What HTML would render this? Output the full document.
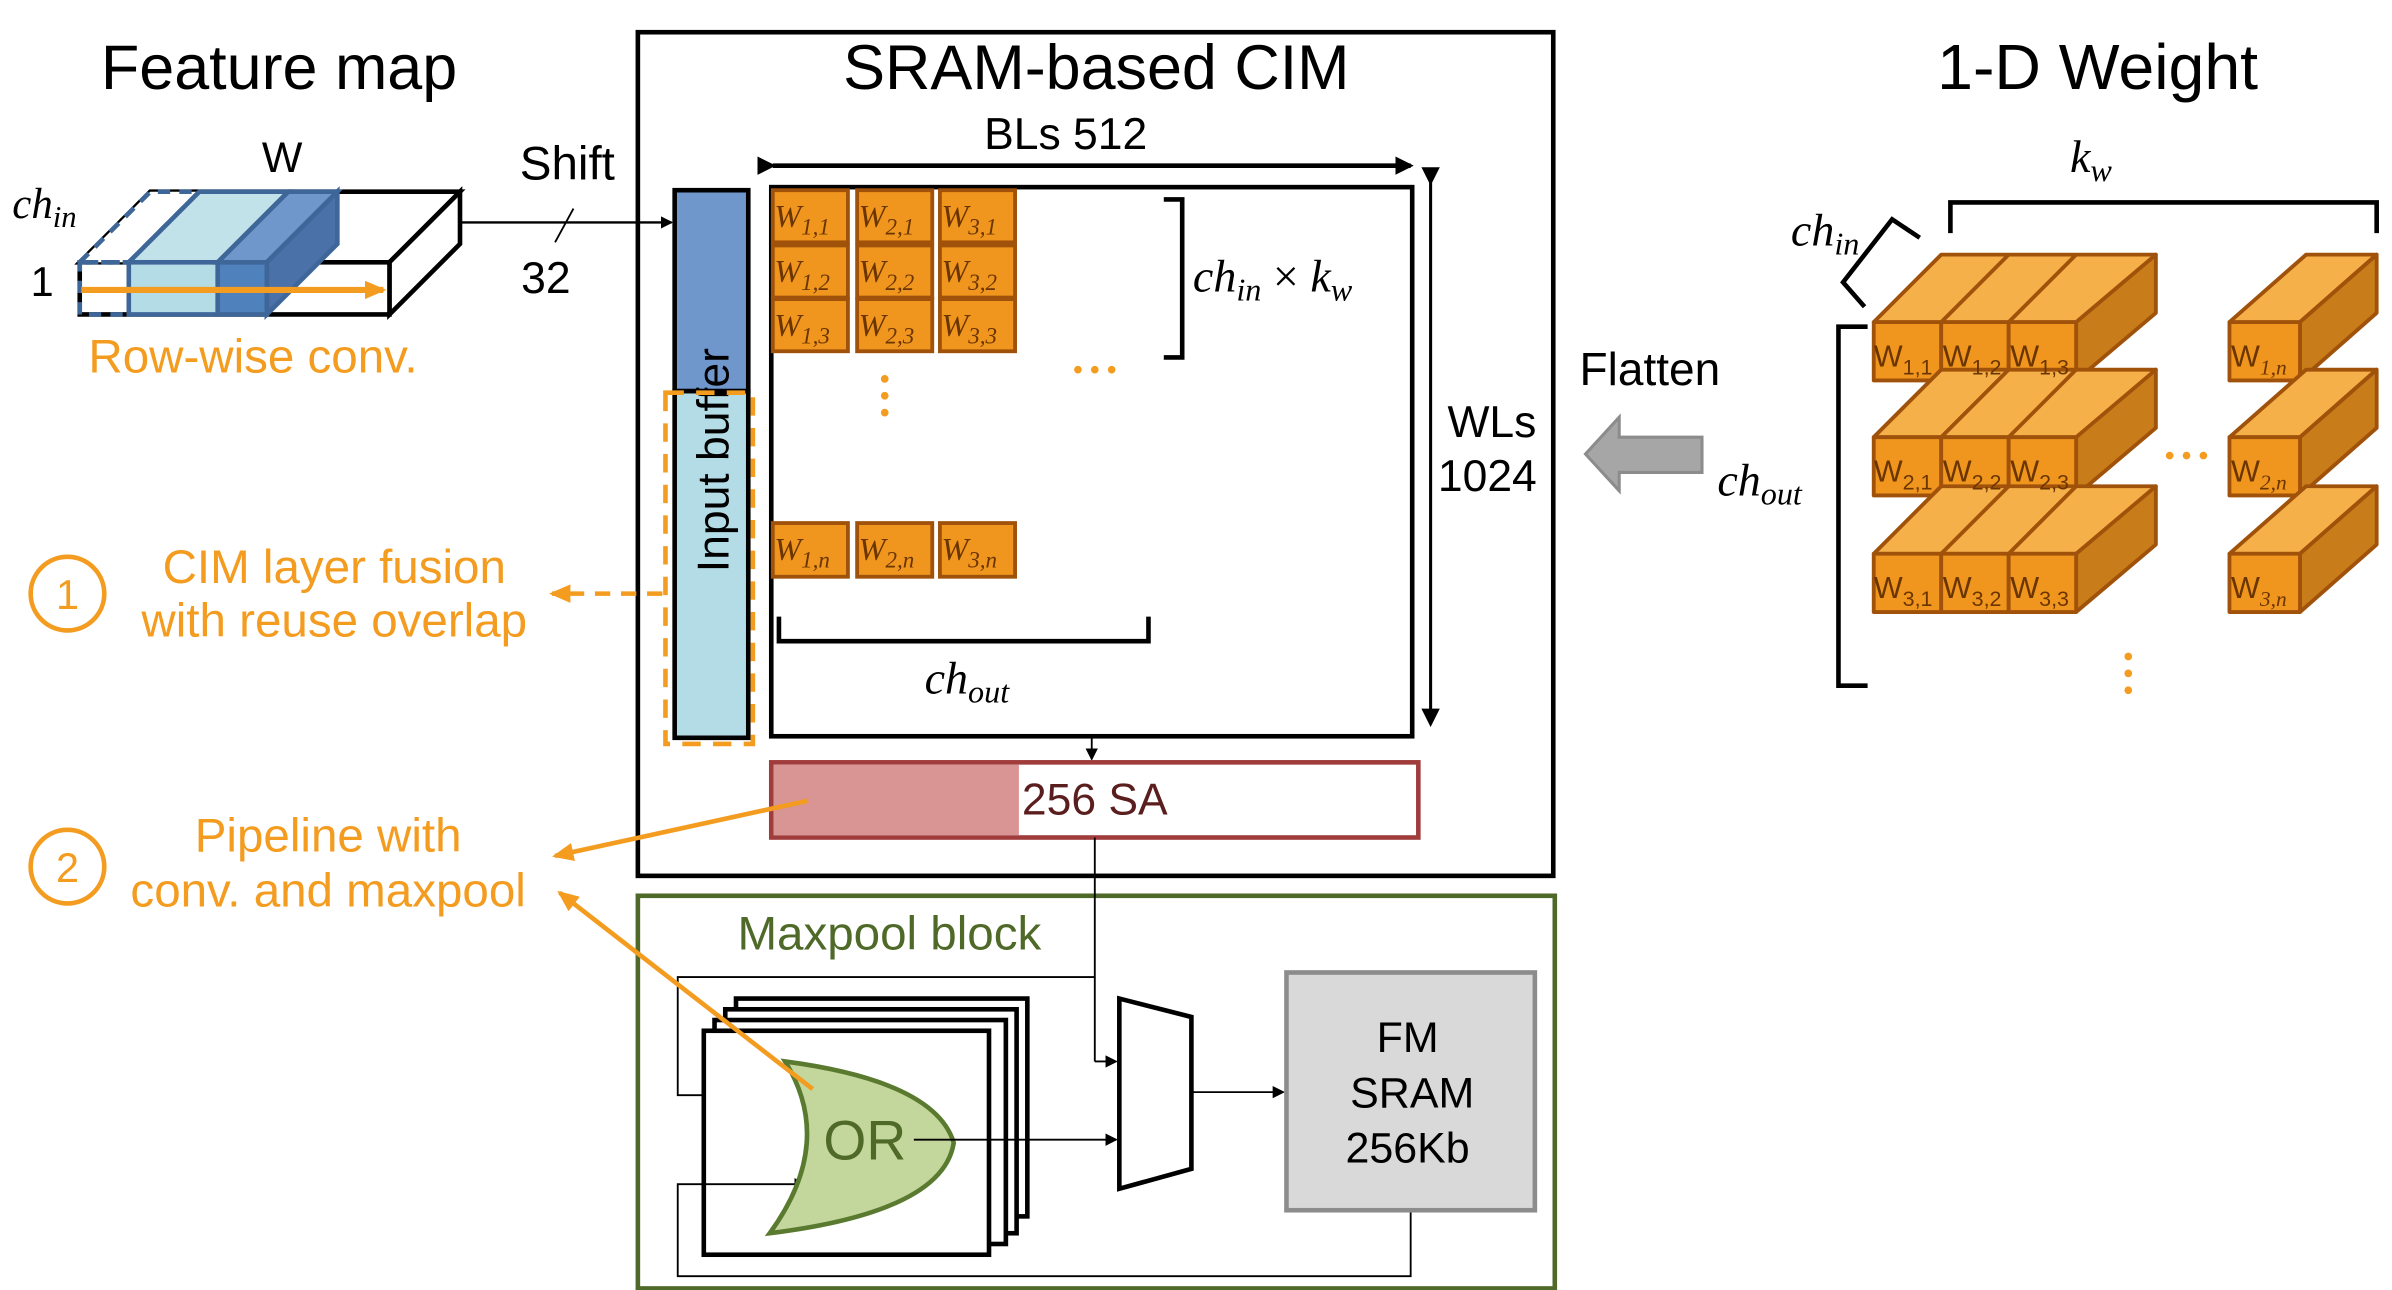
<!DOCTYPE html>
<html><head><meta charset="utf-8"><style>
html,body{margin:0;padding:0;background:#fff;}
svg{display:block;}
text{font-family:"Liberation Sans",sans-serif;}
.m{font-family:"Liberation Serif",serif;font-style:italic;}
.o{fill:#f39c1f;}
</style></head><body>
<svg width="2392" height="1290" viewBox="0 0 1560 841" preserveAspectRatio="none" xmlns="http://www.w3.org/2000/svg">
<defs>
<marker id="a" markerWidth="8" markerHeight="8" refX="7" refY="4" orient="auto" markerUnits="userSpaceOnUse"><path d="M0,0 L8,4 L0,8z" fill="#000"/></marker>
<marker id="ao" markerWidth="14" markerHeight="12" refX="12" refY="6" orient="auto" markerUnits="userSpaceOnUse"><path d="M0,0 L14,6 L0,12z" fill="#f39c1f"/></marker>
<marker id="ad" markerWidth="12" markerHeight="12" refX="10" refY="6" orient="auto" markerUnits="userSpaceOnUse"><path d="M0,0 L12,6 L0,12z" fill="#000"/></marker>
</defs>

<!-- Feature map -->
<text x="182" y="58" font-size="41" text-anchor="middle">Feature map</text>
<text x="184" y="112" font-size="28" text-anchor="middle">W</text>
<text x="8" y="142" font-size="28" class="m">ch<tspan font-size="20" dy="6">in</tspan></text>
<text x="20" y="193" font-size="27">1</text>
<polygon points="52,171 98,125 300,125 254,171" fill="#fff" stroke="#000" stroke-width="3"/>
<polygon points="254,171 300,125 300,159 254,205" fill="#fff" stroke="#000" stroke-width="3"/>
<rect x="52" y="171" width="202" height="34" fill="#fff" stroke="#000" stroke-width="3"/>
<polygon points="52,171 98,125 130,125 84,171" fill="#fff" stroke="#3e6699" stroke-width="3" stroke-dasharray="8,6"/>
<rect x="52" y="171" width="32" height="34" fill="none" stroke="#3e6699" stroke-width="3" stroke-dasharray="8,6"/>
<polygon points="84,171 130,125 188,125 142,171" fill="#c2e2ea" stroke="#3e6699" stroke-width="3"/>
<rect x="84" y="171" width="58" height="34" fill="#b4dce6" stroke="#3e6699" stroke-width="3"/>
<polygon points="142,171 188,125 220,125 174,171" fill="#6f97cc" stroke="#3e6699" stroke-width="3"/>
<polygon points="174,171 220,125 220,159 174,205" fill="#4a72a8" stroke="#3e6699" stroke-width="3"/>
<rect x="142" y="171" width="32" height="34" fill="#4f81bd" stroke="#3e6699" stroke-width="3"/>
<line x1="53" y1="189" x2="250" y2="189" stroke="#f39c1f" stroke-width="4" marker-end="url(#ao)"/>
<text x="165" y="243" font-size="31" text-anchor="middle" class="o">Row-wise conv.</text>

<line x1="300" y1="145" x2="438" y2="145" stroke="#000" stroke-width="1.5" marker-end="url(#a)"/>
<line x1="374" y1="136" x2="362" y2="158" stroke="#000" stroke-width="1.2"/>
<text x="370" y="117" font-size="31" text-anchor="middle">Shift</text>
<text x="356" y="191" font-size="29" text-anchor="middle">32</text>

<!-- CIM box -->
<rect x="416" y="21" width="597" height="550" fill="none" stroke="#000" stroke-width="3"/>
<text x="715" y="58" font-size="41" text-anchor="middle">SRAM-based CIM</text>
<text x="695" y="97" font-size="29" text-anchor="middle">BLs 512</text>
<line x1="504" y1="108" x2="920" y2="108" stroke="#000" stroke-width="3" marker-start="url(#ad)" marker-end="url(#ad)"/>
<rect x="503" y="122" width="418" height="358" fill="#fff" stroke="#000" stroke-width="3"/>
<line x1="933" y1="119" x2="933" y2="472" stroke="#000" stroke-width="2" marker-start="url(#ad)" marker-end="url(#ad)"/>
<text x="973" y="285" font-size="29" text-anchor="middle">WLs</text>
<text x="970" y="320" font-size="29" text-anchor="middle">1024</text>

<rect x="440" y="124" width="48" height="131" fill="#6f97cc" stroke="#000" stroke-width="3"/>
<rect x="440" y="255" width="48" height="226" fill="#b4dce6" stroke="#000" stroke-width="3"/>
<text transform="translate(475,300) rotate(-90)" font-size="29" text-anchor="middle">Input buffer</text>
<rect x="434" y="256" width="57" height="229" fill="none" stroke="#f39c1f" stroke-width="3" stroke-dasharray="12,8"/>

<g stroke="#a0520a" stroke-width="2.5" fill="#f0961e">
<rect x="504" y="124" width="49" height="34"/><rect x="559" y="124" width="49" height="34"/><rect x="613" y="124" width="49" height="34"/>
<rect x="504" y="160" width="49" height="34"/><rect x="559" y="160" width="49" height="34"/><rect x="613" y="160" width="49" height="34"/>
<rect x="504" y="195" width="49" height="34"/><rect x="559" y="195" width="49" height="34"/><rect x="613" y="195" width="49" height="34"/>
<rect x="504" y="341" width="49" height="35"/><rect x="559" y="341" width="49" height="35"/><rect x="613" y="341" width="49" height="35"/>
</g>
<g font-size="21" fill="#6b3500">
<text x="505" y="148" class="m">W<tspan font-size="15" dy="5">1,1</tspan></text>
<text x="560" y="148" class="m">W<tspan font-size="15" dy="5">2,1</tspan></text>
<text x="614" y="148" class="m">W<tspan font-size="15" dy="5">3,1</tspan></text>
<text x="505" y="184" class="m">W<tspan font-size="15" dy="5">1,2</tspan></text>
<text x="560" y="184" class="m">W<tspan font-size="15" dy="5">2,2</tspan></text>
<text x="614" y="184" class="m">W<tspan font-size="15" dy="5">3,2</tspan></text>
<text x="505" y="219" class="m">W<tspan font-size="15" dy="5">1,3</tspan></text>
<text x="560" y="219" class="m">W<tspan font-size="15" dy="5">2,3</tspan></text>
<text x="614" y="219" class="m">W<tspan font-size="15" dy="5">3,3</tspan></text>
<text x="505" y="365" class="m">W<tspan font-size="15" dy="5">1,n</tspan></text>
<text x="560" y="365" class="m">W<tspan font-size="15" dy="5">2,n</tspan></text>
<text x="614" y="365" class="m">W<tspan font-size="15" dy="5">3,n</tspan></text>
</g>
<g fill="#f39c1f"><circle cx="703" cy="241" r="2.5"/><circle cx="714" cy="241" r="2.5"/><circle cx="725" cy="241" r="2.5"/>
<circle cx="577" cy="247" r="2.5"/><circle cx="577" cy="258" r="2.5"/><circle cx="577" cy="269" r="2.5"/></g>
<polyline points="759,130 771,130 771,233 759,233" fill="none" stroke="#000" stroke-width="3"/>
<text x="778" y="190" font-size="30" class="m">ch<tspan font-size="21" dy="6">in</tspan><tspan dy="-6" font-style="normal"> × </tspan>k<tspan font-size="21" dy="6">w</tspan></text>
<polyline points="508,402 508,418 749,418 749,402" fill="none" stroke="#000" stroke-width="3"/>
<text x="603" y="452" font-size="30" class="m">ch<tspan font-size="21" dy="6">out</tspan></text>

<line x1="712" y1="480" x2="712" y2="495" stroke="#000" stroke-width="1.2" marker-end="url(#a)"/>
<rect x="503" y="497" width="422" height="49" fill="#fff" stroke="#a03c3c" stroke-width="3"/>
<rect x="504.5" y="498.5" width="160" height="46" fill="#d99494"/>
<text x="714" y="531" font-size="29" text-anchor="middle" fill="#5a1e1e">256 SA</text>

<circle cx="44" cy="387" r="24" fill="none" stroke="#f39c1f" stroke-width="3"/>
<text x="44" y="397" font-size="27" text-anchor="middle" class="o">1</text>
<text x="218" y="380" font-size="31" text-anchor="middle" class="o">CIM layer fusion</text>
<text x="218" y="415" font-size="31" text-anchor="middle" class="o">with reuse overlap</text>
<line x1="432" y1="387" x2="360" y2="387" stroke="#f39c1f" stroke-width="3" stroke-dasharray="10,7" marker-end="url(#ao)"/>
<circle cx="44" cy="565" r="24" fill="none" stroke="#f39c1f" stroke-width="3"/>
<text x="44" y="575" font-size="27" text-anchor="middle" class="o">2</text>
<text x="214" y="555" font-size="31" text-anchor="middle" class="o">Pipeline with</text>
<text x="214" y="591" font-size="31" text-anchor="middle" class="o">conv. and maxpool</text>
<line x1="527" y1="522" x2="362" y2="558" stroke="#f39c1f" stroke-width="3" marker-end="url(#ao)"/>

<rect x="416" y="584" width="598" height="256" fill="none" stroke="#4f6a28" stroke-width="3"/>
<text x="580" y="619" font-size="31" text-anchor="middle" fill="#4f6a28">Maxpool block</text>
<polyline points="714,546 714,637 442,637 442,714 520,714" fill="none" stroke="#000" stroke-width="1.2" marker-end="url(#a)"/>
<line x1="714" y1="637" x2="714" y2="692" stroke="#000" stroke-width="1.2"/>
<line x1="714" y1="692" x2="728" y2="692" stroke="#000" stroke-width="1.2" marker-end="url(#a)"/>
<g fill="#fff" stroke="#000" stroke-width="3">
<rect x="480" y="651" width="190" height="142"/>
<rect x="473" y="658" width="190" height="146"/>
<rect x="466" y="665" width="190" height="146"/>
<rect x="459" y="672" width="186" height="146"/>
</g>
<polyline points="920,790 920,832 442,832 442,772 525,772" fill="none" stroke="#000" stroke-width="1.2" marker-end="url(#a)"/>
<path d="M512,692 Q610,705 622,745 Q615,790 502,804 Q545,745 512,692 Z" fill="#c3d69b" stroke="#5a7a30" stroke-width="3"/>
<text x="564" y="756" font-size="36" text-anchor="middle" fill="#4f6a28">OR</text>
<line x1="596" y1="743" x2="728" y2="743" stroke="#000" stroke-width="1.2" marker-end="url(#a)"/>
<line x1="530" y1="710" x2="365" y2="582" stroke="#f39c1f" stroke-width="3" marker-end="url(#ao)"/>
<polygon points="730,651 777,663 777,762 730,775" fill="#fff" stroke="#000" stroke-width="3"/>
<line x1="778" y1="712" x2="837" y2="712" stroke="#000" stroke-width="1.2" marker-end="url(#a)"/>
<rect x="839" y="634" width="162" height="155" fill="#d9d9d9" stroke="#8c8c8c" stroke-width="3"/>
<text x="918" y="686" font-size="28" text-anchor="middle">FM</text>
<text x="921" y="722" font-size="28" text-anchor="middle">SRAM</text>
<text x="918" y="758" font-size="28" text-anchor="middle">256Kb</text>

<!-- right -->
<text x="1368" y="58" font-size="42" text-anchor="middle">1-D Weight</text>
<text x="1350" y="112" font-size="30" class="m">k<tspan font-size="21" dy="6">w</tspan></text>
<polyline points="1272,152 1272,132 1550,132 1550,152" fill="none" stroke="#000" stroke-width="3"/>
<polyline points="1252,155 1234,143 1202,184 1216,200" fill="none" stroke="#000" stroke-width="3"/>
<text x="1168" y="160" font-size="30" class="m">ch<tspan font-size="21" dy="6">in</tspan></text>
<text x="1076" y="251" font-size="30" text-anchor="middle">Flatten</text>
<polygon points="1034,296 1056,272 1056,285 1110,285 1110,308 1056,308 1056,320" fill="#a6a6a6" stroke="#8c8c8c" stroke-width="2"/>
<text x="1120" y="323" font-size="30" class="m">ch<tspan font-size="21" dy="6">out</tspan></text>
<polyline points="1218,213 1199,213 1199,447 1218,447" fill="none" stroke="#000" stroke-width="3"/>
<g fill="#f39c1f"><circle cx="1415" cy="297" r="2.5"/><circle cx="1426" cy="297" r="2.5"/><circle cx="1437" cy="297" r="2.5"/>
<circle cx="1388" cy="428" r="2.5"/><circle cx="1388" cy="439" r="2.5"/><circle cx="1388" cy="450" r="2.5"/></g>

<g stroke="#a0520a" stroke-width="2.5" stroke-linejoin="round">
<polygon points="1222,210 1266,166 1406,166 1362,210" fill="#f5b04a"/>
<line x1="1266" y1="210" x2="1310" y2="166"/><line x1="1310" y1="210" x2="1354" y2="166"/>
<polygon points="1354,210 1406,166 1406,204 1354,248" fill="#c97c1a"/>
<rect x="1222" y="210" width="44" height="38" fill="#f0961e"/><rect x="1266" y="210" width="44" height="38" fill="#f0961e"/><rect x="1310" y="210" width="44" height="38" fill="#f0961e"/>
<polygon points="1454,210 1504,166 1550,166 1500,210" fill="#f5b04a"/>
<polygon points="1500,210 1550,166 1550,204 1500,248" fill="#c97c1a"/>
<rect x="1454" y="210" width="46" height="38" fill="#f0961e"/>
<polygon points="1222,285 1266,241 1406,241 1362,285" fill="#f5b04a"/>
<line x1="1266" y1="285" x2="1310" y2="241"/><line x1="1310" y1="285" x2="1354" y2="241"/>
<polygon points="1354,285 1406,241 1406,279 1354,323" fill="#c97c1a"/>
<rect x="1222" y="285" width="44" height="38" fill="#f0961e"/><rect x="1266" y="285" width="44" height="38" fill="#f0961e"/><rect x="1310" y="285" width="44" height="38" fill="#f0961e"/>
<polygon points="1454,285 1504,241 1550,241 1500,285" fill="#f5b04a"/>
<polygon points="1500,285 1550,241 1550,279 1500,323" fill="#c97c1a"/>
<rect x="1454" y="285" width="46" height="38" fill="#f0961e"/>
<polygon points="1222,361 1266,317 1406,317 1362,361" fill="#f5b04a"/>
<line x1="1266" y1="361" x2="1310" y2="317"/><line x1="1310" y1="361" x2="1354" y2="317"/>
<polygon points="1354,361 1406,317 1406,355 1354,399" fill="#c97c1a"/>
<rect x="1222" y="361" width="44" height="38" fill="#f0961e"/><rect x="1266" y="361" width="44" height="38" fill="#f0961e"/><rect x="1310" y="361" width="44" height="38" fill="#f0961e"/>
<polygon points="1454,361 1504,317 1550,317 1500,361" fill="#f5b04a"/>
<polygon points="1500,361 1550,317 1550,355 1500,399" fill="#c97c1a"/>
<rect x="1454" y="361" width="46" height="38" fill="#f0961e"/>
</g>
<g font-size="20" fill="#6b3500">
<text x="1222" y="239">W<tspan font-size="14" dy="5">1,1</tspan></text>
<text x="1267" y="239">W<tspan font-size="14" dy="5">1,2</tspan></text>
<text x="1311" y="239">W<tspan font-size="14" dy="5">1,3</tspan></text>
<text x="1455" y="239">W<tspan font-size="14" dy="5" class="m">1,n</tspan></text>
<text x="1222" y="314">W<tspan font-size="14" dy="5">2,1</tspan></text>
<text x="1267" y="314">W<tspan font-size="14" dy="5">2,2</tspan></text>
<text x="1311" y="314">W<tspan font-size="14" dy="5">2,3</tspan></text>
<text x="1455" y="314">W<tspan font-size="14" dy="5" class="m">2,n</tspan></text>
<text x="1222" y="390">W<tspan font-size="14" dy="5">3,1</tspan></text>
<text x="1267" y="390">W<tspan font-size="14" dy="5">3,2</tspan></text>
<text x="1311" y="390">W<tspan font-size="14" dy="5">3,3</tspan></text>
<text x="1455" y="390">W<tspan font-size="14" dy="5" class="m">3,n</tspan></text>
</g>
</svg>
</body></html>
